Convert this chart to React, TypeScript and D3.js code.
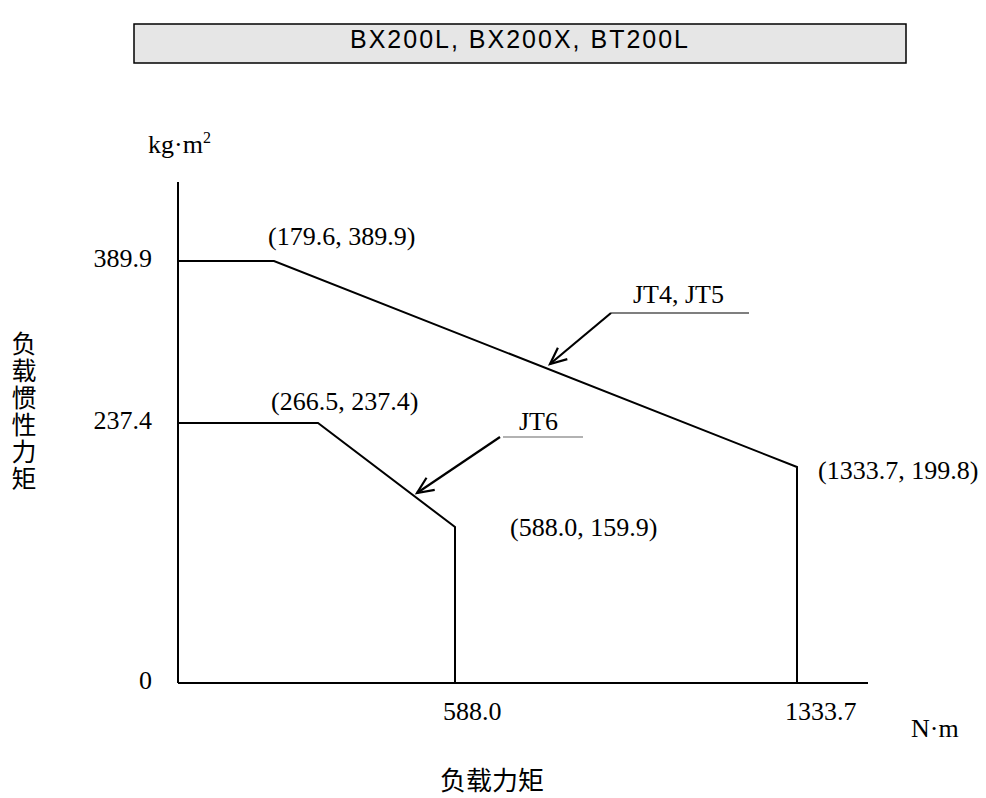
import React from "react";
import * as d3 from "d3";

const title = "BX200L, BX200X, BT200L";
const xTicks = [588.0, 1333.7];
const yTicks = [0, 237.4, 389.9];
const seriesNames = ["JT4, JT5", "JT6"];
const jt45X = [0, 179.6, 1333.7, 1333.7];
const jt45Y = [389.9, 389.9, 199.8, 0];
const jt6X = [0, 266.5, 588.0, 588.0];
const jt6Y = [237.4, 237.4, 159.9, 0];
const xUnit = "N·m";
const yUnit = "kg·m";
const xTitle = "负载力矩";
const yTitle = "负载惯性力矩";

const serif = "'Liberation Serif', 'Times New Roman', serif";
const sans = "'Liberation Sans', Arial, sans-serif";
const cjk = "'Noto Sans CJK SC', sans-serif";

// schematic (non-uniform) axes: piecewise linear scales
const x = d3.scaleLinear().domain([0, 179.6, 266.5, 588.0, 1333.7]).range([178, 274, 318, 455, 797]);
const y = d3.scaleLinear().domain([0, 159.9, 199.8, 237.4, 389.9]).range([683, 527, 467, 423, 261]);

const fmt = d3.format(".1f");
const FS = 26;

export default function App() {
  const line = d3.line<[number, number]>().x((d) => x(d[0])).y((d) => y(d[1]));
  const s45 = jt45X.map((v, i) => [v, jt45Y[i]] as [number, number]);
  const s6 = jt6X.map((v, i) => [v, jt6Y[i]] as [number, number]);
  const corner = (p: [number, number]) => `(${fmt(p[0])}, ${fmt(p[1])})`;

  const arrow = (x1: number, y1: number, x2: number, y2: number) => {
    const a = Math.atan2(y2 - y1, x2 - x1);
    const L = 18, w = 0.42;
    const p1 = [x2 - L * Math.cos(a - w), y2 - L * Math.sin(a - w)];
    const p2 = [x2 - L * Math.cos(a + w), y2 - L * Math.sin(a + w)];
    return (
      <g stroke="#000" strokeWidth={2.2} fill="none">
        <line x1={x1} y1={y1} x2={x2} y2={y2} />
        <polyline points={`${p1[0]},${p1[1]} ${x2},${y2} ${p2[0]},${p2[1]}`} />
      </g>
    );
  };

  return (
    <svg width={986} height={798} style={{ position: "absolute", left: 0, top: 0, background: "#fff" }}>
      <rect x={134} y={24} width={772} height={39} fill="#e6e6e6" stroke="#000" strokeWidth={1.5} />
      <text x={520} y={48} textAnchor="middle" fontFamily={sans} fontSize={25} letterSpacing={2}>{title}</text>

      {/* axes */}
      <line x1={x(0)} y1={182} x2={x(0)} y2={y(0)} stroke="#000" strokeWidth={2} />
      <line x1={x(0)} y1={y(0)} x2={868} y2={y(0)} stroke="#000" strokeWidth={2} />

      {yTicks.map((t) => (
        <text key={t} x={152} y={y(t) + 6} textAnchor="end" fontFamily={serif} fontSize={FS}>{t === 0 ? "0" : fmt(t)}</text>
      ))}
      {xTicks.map((t) => (
        <text key={t} x={x(t) - 12} y={720} textAnchor="start" fontFamily={serif} fontSize={FS}>{fmt(t)}</text>
      ))}

      <text x={148} y={153} fontFamily={serif} fontSize={FS}>{yUnit}<tspan dy={-10} fontSize={16}>2</tspan></text>
      <text x={911} y={737} fontFamily={serif} fontSize={FS}>{xUnit}</text>

      <text x={492} y={790} textAnchor="middle" fontFamily={cjk} fontSize={26}>{xTitle}</text>
      <text x={24} y={331} fontFamily={cjk} fontSize={25} letterSpacing={2} style={{ writingMode: "vertical-rl" } as any}>{yTitle}</text>

      <path d={line(s45) || ""} fill="none" stroke="#000" strokeWidth={2} />
      <path d={line(s6) || ""} fill="none" stroke="#000" strokeWidth={2} />

      <text x={x(s45[1][0]) - 6} y={y(s45[1][1]) - 16} fontFamily={serif} fontSize={FS}>{corner(s45[1])}</text>
      <text x={x(s45[2][0]) + 21} y={y(s45[2][1]) + 12} fontFamily={serif} fontSize={FS}>{corner(s45[2])}</text>
      <text x={x(s6[1][0]) - 47} y={y(s6[1][1]) - 13} fontFamily={serif} fontSize={FS}>{corner(s6[1])}</text>
      <text x={x(s6[2][0]) + 55} y={y(s6[2][1]) + 9} fontFamily={serif} fontSize={FS}>{corner(s6[2])}</text>

      {/* JT4, JT5 label */}
      <text x={633} y={303} fontFamily={serif} fontSize={FS}>{seriesNames[0]}</text>
      <line x1={611} y1={313} x2={749} y2={313} stroke="#000" strokeWidth={1.2} />
      {arrow(611, 313, 550, 364)}

      {/* JT6 label */}
      <text x={519} y={430} fontFamily={serif} fontSize={FS}>{seriesNames[1]}</text>
      <line x1={503} y1={437} x2={583} y2={437} stroke="#666" strokeWidth={1.2} />
      {arrow(500, 437, 417, 493)}
    </svg>
  );
}
